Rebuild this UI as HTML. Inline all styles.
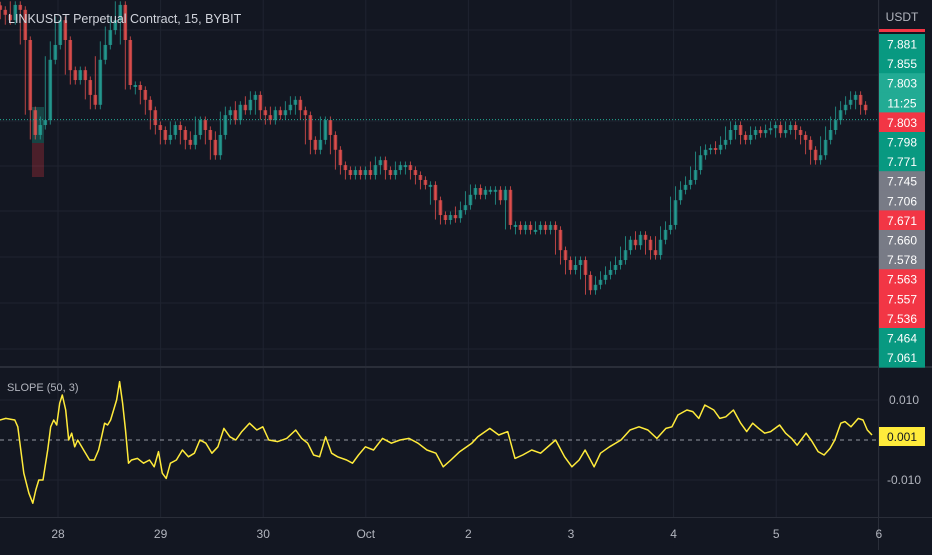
<!DOCTYPE html>
<html><head><meta charset="utf-8">
<style>
html,body{margin:0;padding:0;background:#131722;}
body{width:932px;height:550px;overflow:hidden;font-family:"Liberation Sans",sans-serif;}
svg text{font-family:"Liberation Sans",sans-serif;}
</style></head>
<body>
<svg id="chart" width="932" height="550" xmlns="http://www.w3.org/2000/svg">
<rect x="0" y="0" width="932" height="550" fill="#131722"/>
<g id="grid"></g>
<g id="candles"></g>
<g id="slope"></g>
<g id="axes"></g>
</svg>
<script>
// ---- data ----
var dayLabels = ["28","29","30","Oct","2","3","4","5","6"];
var candleStartHour = -13.5;
var candleStepHours = 1.17;
var closes = [8.047,8.036,8.024,8.058,8.047,7.98,7.824,7.769,7.791,7.802,7.936,7.969,8.024,7.98,7.913,7.891,7.913,7.891,7.858,7.836,7.936,7.969,8.002,8.024,8.058,7.98,7.88,7.88,7.869,7.847,7.824,7.791,7.78,7.758,7.769,7.791,7.78,7.758,7.747,7.769,7.802,7.78,7.758,7.724,7.769,7.813,7.824,7.802,7.836,7.824,7.847,7.858,7.824,7.813,7.802,7.824,7.813,7.824,7.836,7.847,7.824,7.813,7.758,7.736,7.758,7.802,7.769,7.736,7.702,7.691,7.68,7.691,7.68,7.691,7.68,7.702,7.713,7.691,7.68,7.691,7.702,7.702,7.691,7.68,7.669,7.658,7.658,7.624,7.591,7.58,7.591,7.584,7.602,7.613,7.636,7.651,7.636,7.647,7.647,7.647,7.624,7.647,7.569,7.569,7.558,7.569,7.558,7.558,7.569,7.558,7.569,7.558,7.513,7.491,7.469,7.48,7.491,7.458,7.424,7.436,7.447,7.458,7.469,7.48,7.491,7.513,7.536,7.524,7.547,7.536,7.513,7.502,7.536,7.558,7.569,7.624,7.647,7.658,7.669,7.691,7.724,7.736,7.74,7.736,7.747,7.758,7.78,7.791,7.769,7.758,7.769,7.78,7.773,7.78,7.784,7.791,7.773,7.78,7.791,7.78,7.769,7.758,7.736,7.713,7.724,7.758,7.78,7.802,7.824,7.836,7.847,7.858,7.836,7.824];
var slopeHours = [-13.6,-12.2,-10.1,-9.4,-8.0,-6.8,-5.9,-5.2,-4.5,-3.5,-2.4,-1.7,-1.0,-0.3,0.4,1.0,1.8,2.5,3.2,3.9,4.6,6.0,7.4,8.5,9.5,10.2,10.9,11.6,12.3,13.0,13.7,14.4,15.1,15.8,16.5,17.2,18.6,20.0,21.4,22.5,23.5,24.4,25.3,26.3,27.7,29.1,30.5,31.9,33.2,34.6,36.0,37.4,38.8,40.2,41.6,43.0,44.8,46.5,47.9,49.3,51.4,53.5,55.6,57.0,58.4,59.8,61.2,62.6,64.0,65.4,67.5,68.9,70.3,71.9,73.8,75.9,78.0,80.0,82.1,84.2,86.3,88.4,90.1,91.9,94.0,96.8,98.2,101.0,103.1,105.2,106.9,108.7,110.8,112.9,116.4,118.5,120.2,121.9,123.3,125.4,126.9,129.0,131.7,133.8,135.9,138.0,140.1,142.2,143.6,145.0,147.1,148.5,149.9,151.3,153.4,154.8,156.2,158.0,159.7,161.1,162.5,163.9,165.3,166.7,168.8,170.2,171.6,172.9,175.0,176.4,177.8,179.2,180.6,181.7,183.1,184.1,185.5,187.2,188.3,189.3,190.4];
var slopeValues = [0.005,0.0054,0.005,0.0033,-0.0083,-0.0133,-0.0158,-0.0125,-0.01,-0.01,-0.0025,0.0033,0.005,0.00375,0.0092,0.01125,0.0075,0.0,0.0017,-0.0017,0.0,-0.0025,-0.005,-0.005,-0.0025,0.0008,0.0042,0.00375,0.005,0.0075,0.01,0.0146,0.0092,0.0025,-0.0058,-0.005,-0.0046,-0.0058,-0.005,-0.0067,-0.0029,-0.0083,-0.0096,-0.0058,-0.005,-0.0025,-0.0042,-0.0033,0.0,-0.0008,-0.0033,-0.0017,0.0029,0.0008,0.0,0.0021,0.0042,0.0025,0.0033,0.0,-0.0004,0.0004,0.0025,0.0004,-0.0008,-0.00375,-0.0042,0.0008,-0.0033,-0.0042,-0.005,-0.0058,-0.00375,-0.0017,-0.0025,0.0004,-0.0008,0.0,0.0004,-0.0008,-0.0025,-0.0033,-0.0067,-0.005,-0.0029,-0.0008,0.0008,0.0029,0.00125,0.0021,-0.0046,-0.00375,-0.0025,-0.0033,0.0,-0.0042,-0.0067,-0.005,-0.0025,-0.0067,-0.0033,-0.0017,0.0,0.0025,0.0033,0.0025,0.0004,0.0029,0.0033,0.00625,0.0075,0.0071,0.0054,0.00875,0.0075,0.0054,0.0058,0.0075,0.0042,0.0021,0.0042,0.0029,0.0017,0.0021,0.00375,0.0017,0.0004,-0.0013,0.0017,-0.0004,-0.0029,-0.00375,-0.0021,0.0,0.0042,0.0046,0.0033,0.0054,0.005,0.0025,0.00125];
var priceLabels = ["7.881","7.855","7.803","11:25","7.803","7.798","7.771","7.745","7.706","7.671","7.660","7.578","7.563","7.557","7.536","7.464","7.061"];
var priceLabelColors = ["#089981","#089981","#22ab94","#22ab94","#f23645","#089981","#089981","#787b86","#787b86","#f23645","#787b86","#787b86","#f23645","#f23645","#f23645","#089981","#089981"];
var slopeTicks = [0.01,-0.01];
var lastPrice = 7.803;
var lastSlope = 0.001;

// ---- scales ----
var NS="http://www.w3.org/2000/svg";
function xH(h){return 58 + h*102.6/24;}
function yP(p){return 121 - (p-7.80)*450;}
function yS(v){return 440 - v*4000;}
function mk(tag,attrs,parent){var e=document.createElementNS(NS,tag);for(var k in attrs)e.setAttribute(k,attrs[k]);parent.appendChild(e);return e;}

var grid=document.getElementById('grid');
[30,75,121,166,211,257,303,349,400,480].forEach(function(y){
  var l=mk('line',{x1:0,x2:878,y1:y,y2:y,stroke:'#1f2330','stroke-width':1},grid);
  
  
});
dayLabels.forEach(function(d,i){
  var l=mk('line',{x1:xH(i*24),x2:xH(i*24),y1:0,y2:517,stroke:'#1f2330','stroke-width':1},grid);
  
  
});
var hb1=mk('rect',{x:32,y:107,width:12,height:36,fill:'#22ab94','fill-opacity':0.3},grid);


var hb2=mk('rect',{x:32,y:143,width:12,height:34,fill:'#f23645','fill-opacity':0.25},grid);



// candles
(function(){
var cg=document.getElementById('candles');
for(var i=0;i<closes.length;i++){
  var c=closes[i], o=i>0?closes[i-1]:c+0.01;
  var nx=i<closes.length-1?closes[i+1]:c;
  var x=xH(candleStartHour+i*candleStepHours);
  var up=c>=o; var col=up?'#26a69a':'#ef5350';
  var hi=Math.max(o,c,nx)+0.008, lo=Math.min(o,c,nx)-0.01;
  var w=mk('line',{x1:x,x2:x,y1:yP(hi),y2:yP(lo),stroke:col,'stroke-width':1,'stroke-opacity':0.75},cg);
  
  
  var bodyTop=yP(Math.max(o,c)), bh=Math.max(2,Math.abs(yP(o)-yP(c)));
  var b=mk('rect',{x:x-1.8,y:bodyTop,width:3.6,height:bh,fill:col,'fill-opacity':0.75},cg);
  
  
}
var lp=mk('line',{x1:0,x2:878,y1:yP(lastPrice),y2:yP(lastPrice),stroke:'#22ab94','stroke-width':1,'stroke-dasharray':'1 2'},cg);


})();

// slope pane
var sg=document.getElementById('slope');
var zl=mk('line',{x1:0,x2:878,y1:yS(0),y2:yS(0),stroke:'#9598a1','stroke-width':1,'stroke-dasharray':'4 4'},sg);


var pts=slopeHours.map(function(h,i){return xH(h).toFixed(1)+','+yS(slopeValues[i]).toFixed(1);}).join(' ');
var pl=mk('polyline',{points:pts,fill:'none',stroke:'#ffeb3b','stroke-width':1.5,'stroke-linejoin':'round'},sg);



// axes
var ag=document.getElementById('axes');
var sep=mk('rect',{x:0,y:366,width:932,height:2,fill:'#2a2e39'},ag);


var ra=mk('line',{x1:878.5,x2:878.5,y1:0,y2:550,stroke:'#2a2e39','stroke-width':1},ag);


var ba=mk('line',{x1:0,x2:932,y1:517.5,y2:517.5,stroke:'#2a2e39','stroke-width':1},ag);


var redTop=mk('rect',{x:879,y:29,width:46,height:3,fill:'#f23645'},ag);


priceLabels.forEach(function(t,i){
  var y=34+i*19.6;
  var r=mk('rect',{x:879,y:y,width:46,height:20,fill:priceLabelColors[i]},ag);
  
  
  var tx=mk('text',{x:902,y:y+14.5,'text-anchor':'middle','font-size':12,fill:'#ffffff'},ag);
  tx.textContent=t;
  
  
});
var ut=mk('text',{x:902,y:21,'text-anchor':'middle','font-size':12,fill:'#b2b5be'},ag);
ut.textContent='USDT';


slopeTicks.forEach(function(v){
  var t=mk('text',{x:904,y:yS(v)+4,'text-anchor':'middle','font-size':12,fill:'#b2b5be'},ag);
  t.textContent=v.toFixed(3);
  
  
});
var yb=mk('rect',{x:879,y:yS(lastSlope)-9,width:46,height:19,fill:'#ffeb3b'},ag);


var yt=mk('text',{x:902,y:yS(lastSlope)+5,'text-anchor':'middle','font-size':12,fill:'#131722'},ag);
yt.textContent=lastSlope.toFixed(3);


dayLabels.forEach(function(d,i){
  var t=mk('text',{x:xH(i*24),y:538,'text-anchor':'middle','font-size':12,fill:'#b2b5be'},ag);
  t.textContent=d;
  
  
});
var title=mk('text',{x:8,y:23,'font-size':12.5,fill:'#d1d4dc'},ag);
title.textContent='LINKUSDT Perpetual Contract, 15, BYBIT';


var st=mk('text',{x:7,y:391,'font-size':11,fill:'#b2b5be'},ag);
st.textContent='SLOPE (50, 3)';


</script>
</body></html>
